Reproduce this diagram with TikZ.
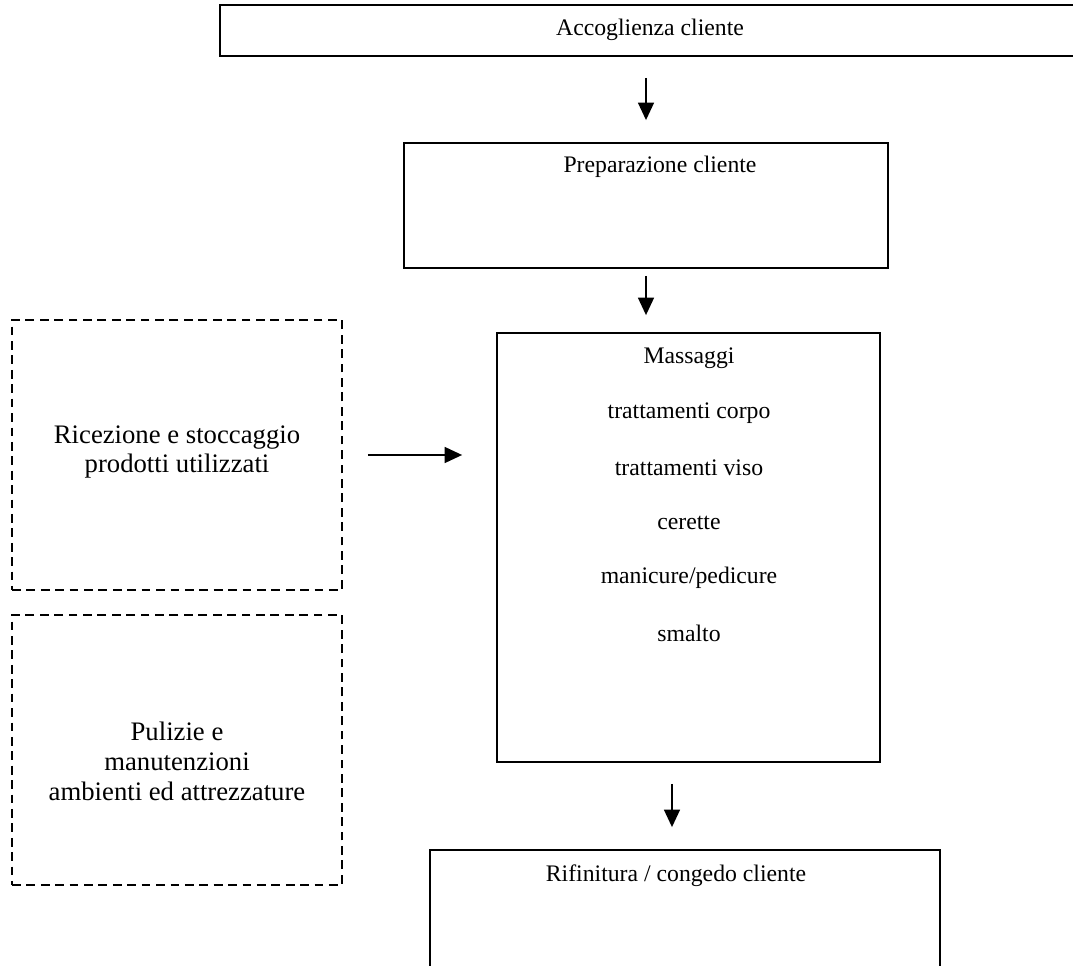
\documentclass[tikz,border=0pt]{standalone}
\usepackage{fontspec}
\setmainfont{Liberation Serif}
\usetikzlibrary{arrows.meta}

\tikzset{
  box/.style={draw, line width=1pt, rectangle, inner sep=0pt},
  dashbox/.style={draw, line width=1pt, dash pattern=on 5pt off 3.2pt, inner sep=0pt},
  arr/.style={line width=1.3pt, -{Triangle[length=10pt,width=9pt]}},
  txt/.style={font=\fontsize{13.5}{16}\selectfont, inner sep=0pt},
  bigtxt/.style={font=\fontsize{15.2}{17}\selectfont, align=center, inner sep=0pt},
}

\begin{document}
\begin{tikzpicture}[x=0.02cm, y=-0.02cm]
    \useasboundingbox (0,0) rectangle (1073,966);
    \clip (0,0) rectangle (1073,966);
    \node[box, minimum width=17.6cm, minimum height=1.02cm] (acc) at (660,30.5) {};
    \node[box, minimum width=9.68cm, minimum height=2.5cm] (prep) at (646,205.5) {};
    \node[box, minimum width=7.66cm, minimum height=8.58cm] (mass) at (688.5,547.5) {};
    \node[box, minimum width=10.2cm, minimum height=3cm] (rif) at (685,925) {};
    \node[dashbox, minimum width=6.6cm, minimum height=5.4cm] (ric) at (177,455) {};
    \node[dashbox, minimum width=6.6cm, minimum height=5.4cm] (pul) at (177,750) {};
    \node[txt] (acct) at (650,30) {Accoglienza cliente};
    \node[txt] (prept) at (660,167) {Preparazione cliente};
    \def\ms{Massaggi,trattamenti corpo,trattamenti viso,cerette,manicure/pedicure,smalto}
    \foreach \m [count=\i from 0] in \ms {\node[txt] (m\i) at (689,358+55*\i) {\m};}
    \node[txt] (rift) at (676,876) {Rifinitura / congedo cliente};
    \node[bigtxt] (rict) at (177,452) {Ricezione e stoccaggio\\prodotti utilizzati};
    \node[bigtxt] (pult) at (177,761) {Pulizie e\\manutenzioni\\ambienti ed attrezzature};
    \coordinate (a3) at (672,762);
    \draw[arr, shorten <=0.42cm, shorten >=0.44cm] (acc.south -| prep.north) -- (prep.north);
    \draw[arr, shorten <=0.14cm, shorten >=0.34cm] (prep.south) -- (prep.south |- mass.north);
    \draw[arr, shorten <=0.44cm, shorten >=0.44cm] (a3) -- (a3 |- rif.north);
    \draw[arr, shorten <=0.5cm, shorten >=0.68cm] (ric.east) -- (ric.east -| mass.west);
  \end{tikzpicture}
\end{document}
